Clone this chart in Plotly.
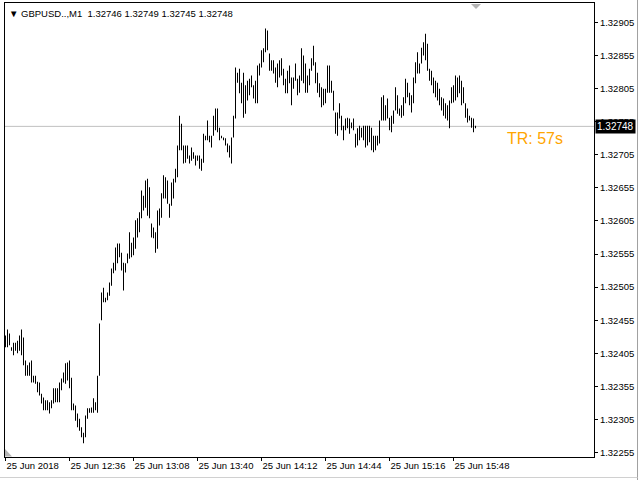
import pandas as pd
import plotly.graph_objects as go

symbol_title = "▼ GBPUSD..,M1  1.32746 1.32749 1.32745 1.32748"
timer_text = "TR: 57s"
last_price = 1.32748
start_time = "2018-06-25 12:04"

highs = [
    1.32432, 1.32441, 1.32435, 1.32414, 1.32421, 1.32421, 1.32424, 1.32432, 1.32441, 1.32429,
    1.32394, 1.32387, 1.32391, 1.32394, 1.32371, 1.32371, 1.32362, 1.32361, 1.32344, 1.32338,
    1.32334, 1.32334, 1.32331, 1.32334, 1.32352, 1.32352, 1.32352, 1.32361, 1.32367, 1.32376,
    1.32390, 1.32391, 1.32394, 1.32368, 1.32329, 1.32326, 1.32314, 1.32306, 1.32293, 1.32285,
    1.32311, 1.32322, 1.32322, 1.32323, 1.32337, 1.32331, 1.32371, 1.32450, 1.32497, 1.32504,
    1.32489, 1.32497, 1.32512, 1.32533, 1.32542, 1.32565, 1.32571, 1.32571, 1.32557, 1.32542,
    1.32541, 1.32556, 1.32588, 1.32572, 1.32580, 1.32606, 1.32609, 1.32618, 1.32651, 1.32643,
    1.32666, 1.32669, 1.32656, 1.32601, 1.32595, 1.32588, 1.32621, 1.32624, 1.32647, 1.32674,
    1.32671, 1.32666, 1.32631, 1.32663, 1.32669, 1.32684, 1.32719, 1.32764, 1.32752, 1.32719,
    1.32719, 1.32719, 1.32704, 1.32716, 1.32709, 1.32704, 1.32704, 1.32704, 1.32699, 1.32737,
    1.32734, 1.32757, 1.32734, 1.32734, 1.32764, 1.32775, 1.32775, 1.32746, 1.32734, 1.32731,
    1.32730, 1.32722, 1.32719, 1.32731, 1.32764, 1.32837, 1.32829, 1.32835, 1.32814, 1.32829,
    1.32810, 1.32817, 1.32820, 1.32825, 1.32810, 1.32817, 1.32840, 1.32843, 1.32863, 1.32866,
    1.32896, 1.32893, 1.32858, 1.32848, 1.32848, 1.32837, 1.32843, 1.32848, 1.32851, 1.32835,
    1.32820, 1.32832, 1.32840, 1.32822, 1.32822, 1.32843, 1.32820, 1.32825, 1.32866, 1.32855,
    1.32843, 1.32825, 1.32835, 1.32851, 1.32870, 1.32845, 1.32829, 1.32813, 1.32807, 1.32805,
    1.32805, 1.32840, 1.32840, 1.32817, 1.32802, 1.32769, 1.32769, 1.32783, 1.32764, 1.32749,
    1.32760, 1.32761, 1.32760, 1.32754, 1.32760, 1.32737, 1.32745, 1.32749, 1.32746, 1.32749,
    1.32749, 1.32749, 1.32749, 1.32746, 1.32734, 1.32734, 1.32734, 1.32757, 1.32792, 1.32795,
    1.32780, 1.32790, 1.32761, 1.32764, 1.32772, 1.32807, 1.32795, 1.32775, 1.32780, 1.32792,
    1.32820, 1.32814, 1.32799, 1.32795, 1.32822, 1.32845, 1.32860, 1.32843, 1.32867, 1.32875,
    1.32888, 1.32873, 1.32835, 1.32832, 1.32822, 1.32817, 1.32814, 1.32805, 1.32792, 1.32790,
    1.32783, 1.32780, 1.32787, 1.32807, 1.32810, 1.32825, 1.32822, 1.32825, 1.32817, 1.32807,
    1.32783, 1.32775, 1.32764, 1.32761, 1.32760, 1.32749,
]

lows = [
    1.32414, 1.32414, 1.32417, 1.32409, 1.32402, 1.32409, 1.32405, 1.32409, 1.32402, 1.32387,
    1.32371, 1.32371, 1.32371, 1.32361, 1.32361, 1.32359, 1.32346, 1.32341, 1.32329, 1.32319,
    1.32319, 1.32319, 1.32314, 1.32322, 1.32329, 1.32331, 1.32331, 1.32331, 1.32349, 1.32361,
    1.32359, 1.32364, 1.32352, 1.32319, 1.32319, 1.32303, 1.32293, 1.32288, 1.32278, 1.32269,
    1.32278, 1.32306, 1.32315, 1.32315, 1.32315, 1.32319, 1.32315, 1.32371, 1.32455, 1.32482,
    1.32482, 1.32485, 1.32492, 1.32507, 1.32526, 1.32530, 1.32541, 1.32550, 1.32530, 1.32500,
    1.32527, 1.32541, 1.32548, 1.32550, 1.32553, 1.32563, 1.32580, 1.32588, 1.32609, 1.32621,
    1.32625, 1.32613, 1.32609, 1.32580, 1.32579, 1.32557, 1.32563, 1.32598, 1.32610, 1.32639,
    1.32639, 1.32631, 1.32610, 1.32628, 1.32639, 1.32663, 1.32671, 1.32712, 1.32712, 1.32692,
    1.32693, 1.32699, 1.32692, 1.32696, 1.32699, 1.32689, 1.32696, 1.32684, 1.32681, 1.32693,
    1.32727, 1.32727, 1.32724, 1.32716, 1.32734, 1.32742, 1.32739, 1.32727, 1.32730, 1.32727,
    1.32719, 1.32709, 1.32701, 1.32692, 1.32731, 1.32760, 1.32814, 1.32798, 1.32783, 1.32761,
    1.32767, 1.32787, 1.32795, 1.32807, 1.32790, 1.32783, 1.32783, 1.32825, 1.32837, 1.32845,
    1.32860, 1.32863, 1.32832, 1.32832, 1.32828, 1.32814, 1.32807, 1.32822, 1.32825, 1.32810,
    1.32798, 1.32798, 1.32813, 1.32780, 1.32805, 1.32817, 1.32795, 1.32799, 1.32817, 1.32813,
    1.32799, 1.32799, 1.32810, 1.32832, 1.32840, 1.32813, 1.32799, 1.32792, 1.32777, 1.32780,
    1.32783, 1.32799, 1.32799, 1.32799, 1.32772, 1.32737, 1.32734, 1.32760, 1.32742, 1.32727,
    1.32742, 1.32745, 1.32737, 1.32745, 1.32742, 1.32716, 1.32719, 1.32727, 1.32731, 1.32727,
    1.32716, 1.32719, 1.32724, 1.32712, 1.32709, 1.32712, 1.32719, 1.32722, 1.32757, 1.32757,
    1.32757, 1.32760, 1.32742, 1.32739, 1.32752, 1.32772, 1.32767, 1.32764, 1.32761, 1.32764,
    1.32783, 1.32792, 1.32780, 1.32769, 1.32783, 1.32813, 1.32828, 1.32828, 1.32843, 1.32855,
    1.32848, 1.32832, 1.32817, 1.32810, 1.32798, 1.32792, 1.32787, 1.32780, 1.32772, 1.32764,
    1.32760, 1.32757, 1.32745, 1.32783, 1.32784, 1.32787, 1.32792, 1.32798, 1.32780, 1.32783,
    1.32761, 1.32754, 1.32757, 1.32746, 1.32739, 1.32745,
]

price_ticks = [1.32255, 1.32305, 1.32355, 1.32405, 1.32455, 1.32505, 1.32555, 1.32605,
               1.32655, 1.32705, 1.32755, 1.32805, 1.32855, 1.32905]
time_tick_times = ["2018-06-25 12:04", "2018-06-25 12:36", "2018-06-25 13:08", "2018-06-25 13:40",
                   "2018-06-25 14:12", "2018-06-25 14:44", "2018-06-25 15:16", "2018-06-25 15:48"]
time_tick_labels = ["25 Jun 2018", "25 Jun 12:36", "25 Jun 13:08", "25 Jun 13:40",
                    "25 Jun 14:12", "25 Jun 14:44", "25 Jun 15:16", "25 Jun 15:48"]

times = pd.date_range(start_time, periods=len(highs), freq="min")
t0 = pd.Timestamp(start_time)
x_range = [t0 - pd.Timedelta(seconds=15), t0 + pd.Timedelta(seconds=294.25 * 60)]
y_range = [1.322482, 1.329345]

FONT = "Liberation Sans"

fig = go.Figure()
fig.add_trace(go.Bar(
    x=times,
    y=[h - l for h, l in zip(highs, lows)],
    base=lows,
    width=30000,
    marker=dict(color="#000000", line=dict(width=0)),
    hoverinfo="skip",
))

# current price line
fig.add_shape(type="line", xref="paper", x0=0, x1=1, yref="y", y0=last_price, y1=last_price,
              line=dict(color="#C0C0C0", width=1), layer="below")

# chart-shift marker (top) and corner marker (bottom-left)
fig.add_shape(type="path", xref="paper", yref="paper",
              path="M 0.7912 0.9978 L 0.8081 0.9978 L 0.7997 0.9868 Z",
              fillcolor="#B4B4B4", line=dict(width=0))
fig.add_shape(type="path", xref="paper", yref="paper",
              path="M 0.0 0.0176 L 0.0 0.0011 L 0.0119 0.0011 Z",
              fillcolor="#B4B4B4", line=dict(width=0))

# window border
fig.add_shape(type="line", xref="paper", yref="paper", x0=1.0739, x1=1.0739, y0=1.02, y1=-0.06,
              line=dict(color="#A0A0A0", width=1))
fig.add_shape(type="line", xref="paper", yref="paper", x0=-0.02, x1=1.0739, y0=-0.0452, y1=-0.0452,
              line=dict(color="#D0D0D0", width=1))

fig.add_annotation(xref="paper", yref="y", x=1, y=last_price, xanchor="left", yanchor="middle",
                   text="1.32748", showarrow=False, bgcolor="#000000",
                   font=dict(family=FONT, size=10, color="#FFFFFF"), borderpad=1, xshift=1)

fig.add_annotation(xref="paper", yref="paper", x=0, y=1, xanchor="left", yanchor="top",
                   text=symbol_title, showarrow=False, xshift=2, yshift=-3,
                   font=dict(family=FONT, size=9.5, color="#000000"))

fig.add_annotation(xref="paper", yref="paper", x=0.849, y=0.7026, xanchor="left", yanchor="middle",
                   text=timer_text, showarrow=False,
                   font=dict(family=FONT, size=16, color="#FFA500"))

fig.update_layout(
    width=640, height=480,
    margin=dict(l=5, r=46, t=3, b=23),
    paper_bgcolor="#FFFFFF", plot_bgcolor="#FFFFFF",
    showlegend=False,
    xaxis=dict(
        type="date", range=x_range, tickmode="array",
        tickvals=time_tick_times, ticktext=time_tick_labels,
        ticks="outside", ticklen=3, tickcolor="#000000", tickangle=0,
        ticklabelposition="outside right",
        showgrid=False, zeroline=False,
        showline=True, linecolor="#000000", linewidth=1, mirror=True,
        tickfont=dict(family=FONT, size=9.5, color="#000000"),
        fixedrange=True,
    ),
    yaxis=dict(
        side="right", range=y_range, tickmode="array", tickvals=price_ticks,
        ticktext=[f"{v:.5f}" for v in price_ticks],
        ticks="outside", ticklen=3, tickcolor="#000000",
        showgrid=False, zeroline=False,
        showline=True, linecolor="#000000", linewidth=1, mirror=True,
        tickfont=dict(family=FONT, size=9.5, color="#000000"),
        fixedrange=True,
    ),
)

fig.write_html("out.html", config={"displayModeBar": False},
               post_script="document.body.style.margin='0';document.body.style.overflow='hidden';")
